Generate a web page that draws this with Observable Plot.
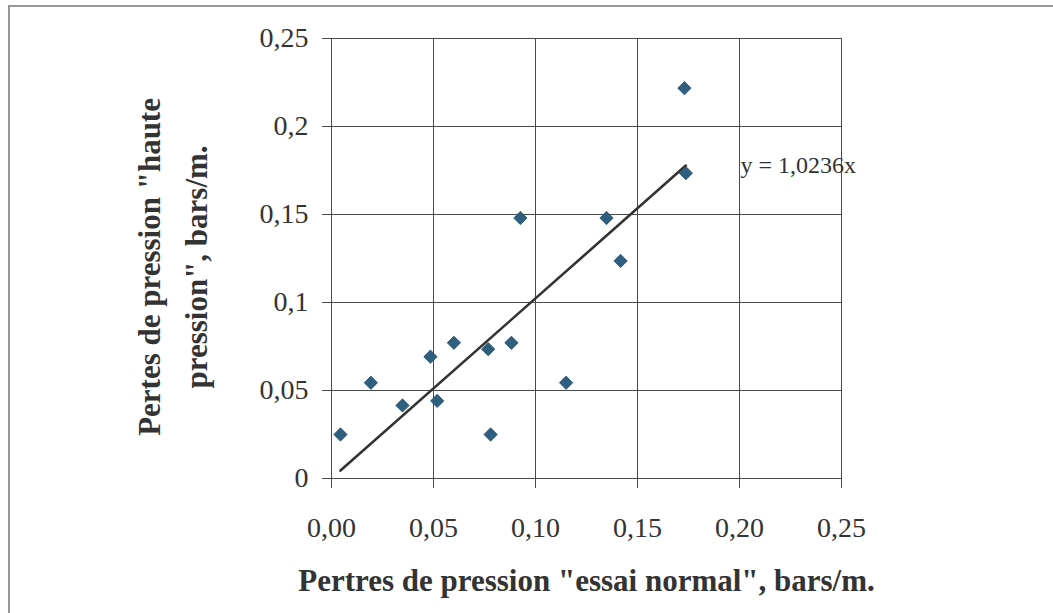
<!DOCTYPE html>
<html>
<head>
<meta charset="utf-8">
<script src="https://cdn.jsdelivr.net/npm/d3@7"></script>
<script src="https://cdn.jsdelivr.net/npm/@observablehq/plot@0.6"></script>
<style>
  html, body { margin: 0; padding: 0; background: #fff; }
  #wrap { position: relative; width: 1053px; height: 613px; overflow: hidden; }
  #frame { position: absolute; left: 8px; top: 5px; right: -4px; bottom: -4px;
           border-top: 2px solid #999; border-left: 2px solid #999; pointer-events: none; }
</style>
</head>
<body>
<div id="wrap"><div id="frame"></div></div>
<script>
// Data
const xNormal = [0.0044, 0.0193, 0.0348, 0.0485, 0.0518, 0.0600, 0.0768, 0.0780, 0.0882, 0.0926, 0.1150, 0.1348, 0.1417, 0.1730, 0.1737];
const yHaute  = [0.0250, 0.0544, 0.0415, 0.0692, 0.0441, 0.0771, 0.0735, 0.0250, 0.0771, 0.1480, 0.0544, 0.1480, 0.1236, 0.2218, 0.1735];
const slope = 1.0236;
const equationText = "y = 1,0236x";
const xTicks = [0, 0.05, 0.10, 0.15, 0.20, 0.25];
const xTickLabels = ["0,00", "0,05", "0,10", "0,15", "0,20", "0,25"];
const yTicks = [0, 0.05, 0.10, 0.15, 0.20, 0.25];
const yTickLabels = ["0", "0,05", "0,1", "0,15", "0,2", "0,25"];
const xTitle = "Pertres de pression \"essai normal\", bars/m.";
const yTitleLines = ["Pertes de pression \"haute", "pression\", bars/m."];

const points = xNormal.map((x, i) => ({x, y: yHaute[i]}));
const xmin = d3.min(xNormal), xmax = d3.max(xNormal);
const trend = [{x: xmin, y: slope * xmin}, {x: xmax, y: slope * xmax}];

const serif = "'Liberation Serif', 'Times New Roman', serif";
const gridColor = "#4a4a4a";

const chart = Plot.plot({
  width: 1053,
  height: 613,
  marginLeft: 331,
  marginRight: 212,
  marginTop: 38,
  marginBottom: 135,
  style: {fontFamily: serif, background: "transparent", overflow: "visible"},
  x: {domain: [0, 0.25]},
  y: {domain: [0, 0.25]},
  marks: [
    Plot.gridX(xTicks, {stroke: gridColor, strokeOpacity: 1, strokeWidth: 1}),
    Plot.gridY(yTicks, {stroke: gridColor, strokeOpacity: 1, strokeWidth: 1}),
    Plot.axisX({ticks: xTicks, tickFormat: (d) => xTickLabels[xTicks.indexOf(d)], tickSize: 10, tickPadding: 29,
                stroke: gridColor, fontSize: 28, fill: "#333", label: null}),
    Plot.axisY({ticks: yTicks, tickFormat: (d) => yTickLabels[yTicks.indexOf(d)], tickSize: 9, tickPadding: 14,
                stroke: gridColor, fontSize: 28, fill: "#333", label: null}),
    Plot.line(trend, {x: "x", y: "y", stroke: "#333", strokeWidth: 2.6}),
    Plot.dot(points, {x: "x", y: "y", symbol: "diamond2", r: 6, fill: "#2e5f7f", stroke: "#244d68", strokeWidth: 0.8}),
    Plot.text([equationText], {x: 0.2005, y: 0.178, text: d => d, textAnchor: "start", fontSize: 24, fill: "#333"}),
    Plot.text([xTitle], {frameAnchor: "bottom", dy: 112, text: d => d, fontSize: 31, fontWeight: "bold", fill: "#333"}),
    Plot.text(yTitleLines, {x: (d, i) => [-0.0887, -0.0657][i], y: () => 0.1202, rotate: -90, text: d => d,
                            fontSize: 31, fontWeight: "bold", fill: "#333"})
  ]
});
document.getElementById("wrap").prepend(chart);
</script>
</body>
</html>
